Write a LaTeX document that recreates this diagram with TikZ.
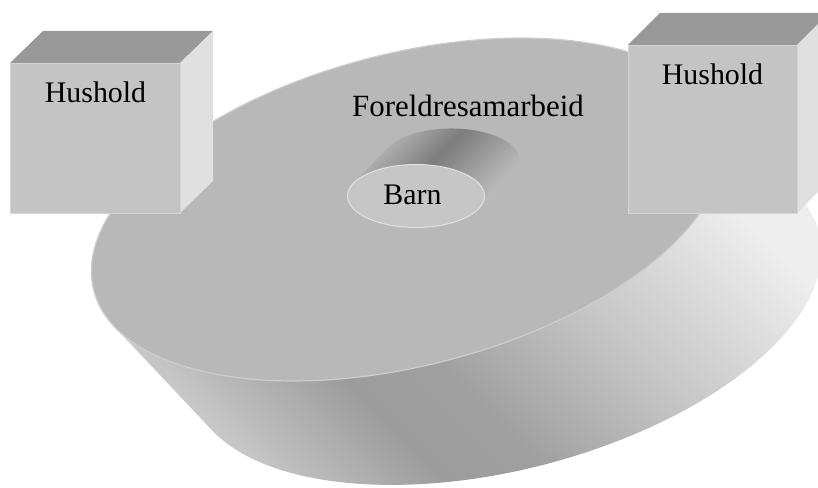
\documentclass[tikz,border=0pt]{standalone}
\usepackage{fontspec}
\setmainfont{Liberation Serif}
\definecolor{c120}{RGB}{125,125,125}
\definecolor{c153}{RGB}{153,153,153}
\definecolor{c155}{RGB}{156,156,156}
\definecolor{c163}{RGB}{160,160,160}
\definecolor{c175}{RGB}{175,175,175}
\definecolor{c184}{RGB}{184,184,184}
\definecolor{c195}{RGB}{190,190,190}
\definecolor{c196}{RGB}{196,196,196}
\definecolor{c200}{RGB}{198,198,198}
\definecolor{c205}{RGB}{205,205,205}
\definecolor{c212}{RGB}{212,212,212}
\definecolor{c224}{RGB}{224,224,224}
\definecolor{c238}{RGB}{238,238,238}
\pgfdeclarehorizontalshading{sideshade}{100bp}{color(0bp)=(c205); color(34bp)=(c205); color(43bp)=(c155); color(48bp)=(c163); color(57bp)=(c200); color(68bp)=(c238); color(100bp)=(c238)}
\pgfdeclarehorizontalshading{innershade}{100bp}{color(0bp)=(c175); color(36bp)=(c175); color(47bp)=(c120); color(64bp)=(c195); color(100bp)=(c195)}
\tikzset{
  lbl/.style={font=\fontsize{30}{36}\selectfont, anchor=base, inner sep=0pt},
  boxfront/.style={fill=c196, draw=c212, line width=0.8bp},
  boxtop/.style={fill=c153},
  boxside/.style={fill=c224},
}
\begin{document}
\begin{tikzpicture}[x=1bp,y=1bp]
\useasboundingbox (0,0) rectangle (818,488);
\clip (0,0) rectangle (818,488);
% side of the big disk
\begin{scope}
  \clip[shift={(407.5,278.5)}, rotate=14.5] (14.83:324 and 156) -- ++(68.84,-125.2)
     arc[start angle=14.83, end angle=-165.17, x radius=324, y radius=156]
     -- ++(-68.84,125.2) -- cycle;
  \shade[shading=sideshade, shading angle=45] (60,-250) rectangle (860,550);
\end{scope}
% top face of the big disk
\fill[c184, shift={(407.5,278.5)}, rotate=14.5] (0,0) ellipse[x radius=324, y radius=156];
\draw[c205, line width=1.2bp, shift={(407.5,278.5)}, rotate=14.5] (0,0) ellipse[x radius=324, y radius=156];
% inner cylinder side
\begin{scope}
  \clip[shift={(416,292)}] (-24.1:68.5 and 31.5) -- ++(35,36)
     arc[start angle=-24.1, end angle=155.9, x radius=68.5, y radius=31.5]
     -- ++(-35,-36) -- cycle;
  \shade[shading=innershade, shading angle=-45] (333.5,210) rectangle (533.5,410);
\end{scope}
% inner cylinder front
\fill[c200] (416,292) ellipse[x radius=68.5, y radius=31.5];
\draw[c224, line width=1bp] (416,292) ellipse[x radius=68.5, y radius=31.5];
% left box
\fill[boxtop] (10,425) -- (43,457) -- (213,457) -- (180,425) -- cycle;
\fill[boxside] (180,425) -- (213,457) -- (213,307) -- (180,275) -- cycle;
\draw[boxfront] (10,275) rectangle (180,425);
% right box
\fill[boxtop] (628,443) -- (660,475) -- (829,475) -- (797,443) -- cycle;
\fill[boxside] (797,443) -- (829,475) -- (829,307) -- (797,275) -- cycle;
\draw[boxfront] (628,275) rectangle (797,443);
% labels
\node[lbl] (h1) at (95.5,385) {Hushold};
\node[lbl] (h2) at (712.5,403) {Hushold};
\node[lbl, font=\fontsize{31}{36}\selectfont] (fs) at (468,371) {Foreldresamarbeid};
\node[lbl] (barn) at (412.5,283) {Barn};
\end{tikzpicture}
\end{document}
